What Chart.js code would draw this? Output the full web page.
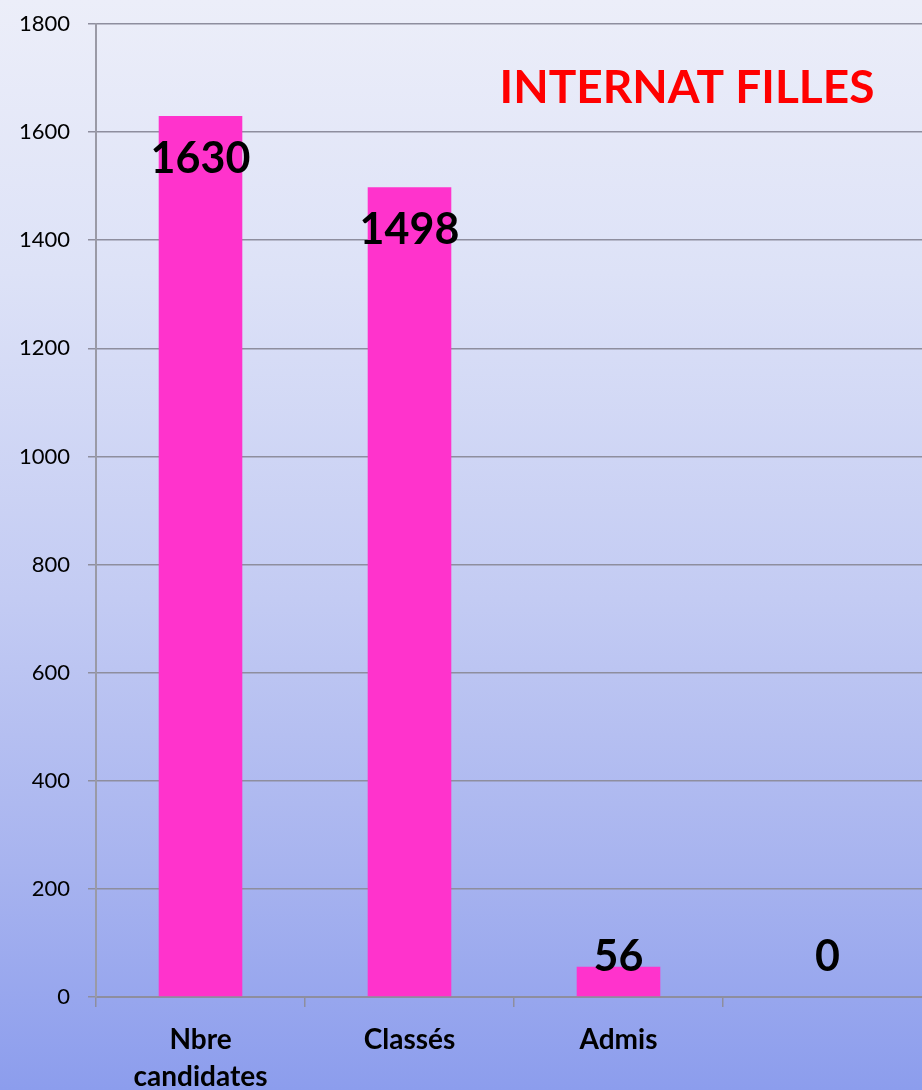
<!DOCTYPE html>
<html>
<head>
<meta charset="utf-8">
<script src="https://cdn.jsdelivr.net/npm/chart.js@4"></script>
<style>
    html, body { margin: 0; padding: 0; overflow: hidden; }
    body {
        width: 922px;
        height: 1090px;
        background: linear-gradient(to bottom, #eceef9 0%, #dde2f7 25%, #c3cbf3 55%, #a7b3ef 80%, #8c9ded 100%);
    }
    #wrap { width: 932px; height: 1090px; }
</style>
</head>
<body>
<div id="wrap"><canvas id="internat"></canvas></div>
<script>
const categories = [['Nbre', 'candidates'], 'Classés', 'Admis', ''];
const values = [1630, 1498, 56, 0];
const yTicks = [0, 200, 400, 600, 800, 1000, 1200, 1400, 1600, 1800];
const title = 'INTERNAT FILLES';

// value labels sit inside the top of each bar, pushed up when the bar is short
const valueLabels = {
    id: 'valueLabels',
    afterDatasetsDraw(chart) {
        const ctx = chart.ctx;
        const meta = chart.getDatasetMeta(0);
        const base = chart.scales.y.getPixelForValue(0);
        ctx.save();
        ctx.font = 'bold 43px Lato';
        ctx.fillStyle = '#000000';
        ctx.textAlign = 'center';
        ctx.textBaseline = 'middle';
        meta.data.forEach((bar, i) => {
            const y = Math.min(bar.y + 43, base - 40);
            ctx.fillText(String(values[i]), bar.x, y);
        });
        ctx.restore();
    }
};

const cornerTitle = {
    id: 'cornerTitle',
    afterDraw(chart) {
        const ctx = chart.ctx;
        ctx.save();
        ctx.font = 'bold 46px Lato';
        ctx.fillStyle = '#ff0000';
        ctx.textAlign = 'center';
        ctx.textBaseline = 'middle';
        ctx.fillText(title, 687, 88);
        ctx.restore();
    }
};

new Chart(document.getElementById('internat'), {
    type: 'bar',
    data: {
        labels: categories,
        datasets: [{
            data: values,
            backgroundColor: '#ff33cc',
            borderWidth: 0,
            barPercentage: 0.4,
            categoryPercentage: 1.0
        }]
    },
    options: {
        responsive: true,
        maintainAspectRatio: false,
        animation: false,
        layout: { padding: { top: 24, right: 0, left: 0, bottom: 0 } },
        plugins: {
            legend: { display: false },
            tooltip: { enabled: false },
            title: { display: false }
        },
        scales: {
            x: {
                afterFit: (scale) => { scale.height = 93; },
                grid: {
                    offset: true,
                    drawOnChartArea: false,
                    drawTicks: true,
                    tickLength: 10,
                    color: '#8e8e9e',
                    lineWidth: 1.5
                },
                border: { color: '#8e8e9e', width: 2 },
                ticks: {
                    color: '#000000',
                    font: { family: 'Lato', size: 28, weight: 'bold', lineHeight: 1.3 },
                    padding: 15,
                    maxRotation: 0
                }
            },
            y: {
                min: 0,
                max: 1800,
                afterFit: (scale) => {
                    scale.width = 96;
                    scale.paddingTop = 0;
                    scale.paddingBottom = 0;
                },
                afterBuildTicks: (scale) => { scale.ticks = yTicks.map(v => ({ value: v })); },
                grid: {
                    color: '#8e8e9e',
                    lineWidth: 1.5,
                    drawTicks: true,
                    tickLength: 8
                },
                border: { color: '#9a9aa6', width: 2 },
                ticks: {
                    color: '#000000',
                    font: { family: 'Lato', size: 22 },
                    padding: 18,
                    callback: (v) => String(v)
                }
            }
        }
    },
    plugins: [valueLabels, cornerTitle]
});
</script>
</body>
</html>
